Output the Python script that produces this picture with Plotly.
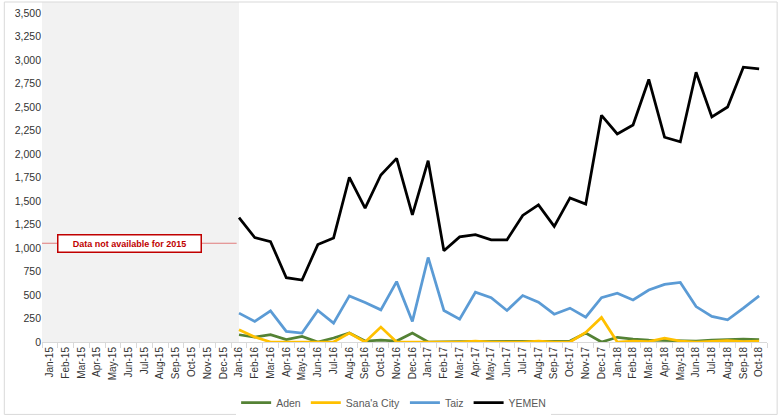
import plotly.graph_objects as go

months = [f"{m}-{y}" for y in ["15", "16", "17", "18"]
          for m in ["Jan", "Feb", "Mar", "Apr", "May", "Jun",
                    "Jul", "Aug", "Sep", "Oct", "Nov", "Dec"]][:46]

no_data_2015 = [None] * 12

aden = no_data_2015 + [
    77, 53, 77, 25, 60, 0, 42, 95, 10, 20, 10, 95,
    0, 5, 5, 5, 5, 5, 5, 5, 5, 10, 95, 0,
    50, 30, 20, 15, 10, 10, 20, 25, 30, 25,
]
sanaa = no_data_2015 + [
    130, 53, 0, 0, 0, 0, 0, 95, 0, 159, 0, 0,
    0, 0, 0, 10, 0, 0, 0, 10, 0, 0, 102, 261,
    0, 10, 5, 42, 10, 0, 5, 15, 5, 10,
]
taiz = no_data_2015 + [
    307, 219, 331, 113, 95, 335, 201, 490, 420, 342, 642, 219,
    899, 335, 243, 529, 472, 335, 494, 423, 296, 360, 264, 472,
    518, 447, 553, 613, 634, 377, 272, 236, 360, 490,
]
yemen = no_data_2015 + [
    1322, 1110, 1068, 684, 659, 1036, 1107, 1752, 1424, 1776, 1953, 1353,
    1928, 970, 1118, 1142, 1086, 1086, 1346, 1459, 1230, 1533, 1467, 2411,
    2213, 2308, 2792, 2178, 2129, 2869, 2393, 2499, 2922, 2905,
]

y_ticks = list(range(0, 3501, 250))
note_level = 1050

fig = go.Figure()
series = [
    ("Aden", aden, "#548235"),
    ("Sana'a City", sanaa, "#ffc000"),
    ("Taiz", taiz, "#5b9bd5"),
    ("YEMEN", yemen, "#000000"),
]
for name, vals, color in series:
    fig.add_trace(go.Scatter(
        x=months, y=vals, name=name, mode="lines",
        line=dict(color=color, width=2.75),
    ))

# grey band for 2015 (no data)
fig.add_shape(type="rect", xref="x", yref="paper", x0=-0.85, x1=12, y0=0, y1=1,
              fillcolor="#f2f2f2", line=dict(width=0), layer="below")
fig.add_shape(type="line", xref="x", yref="y", x0=-0.7, x1=11.85,
              y0=note_level, y1=note_level,
              line=dict(color="#e07b7b", width=1.2))
fig.add_annotation(
    x=5.05, y=note_level, xref="x", yref="y", showarrow=False,
    text="<b>Data not available for 2015</b>",
    font=dict(size=9, color="#c00000", family="Liberation Sans"),
    bgcolor="white", bordercolor="#c00000", borderwidth=1.5,
    width=140, height=14,
)

# chart border
fig.add_shape(type="rect", xref="paper", yref="paper", x0=-0.052, x1=1.014,
              y0=-0.213, y1=1.0, line=dict(color="#d9d9d9", width=1))

fig.update_layout(
    width=779, height=419,
    margin=dict(l=42, r=12, t=2, b=75),
    plot_bgcolor="white", paper_bgcolor="white",
    font=dict(family="Liberation Sans", size=10, color="#404040"),
    showlegend=True,
    legend=dict(orientation="h", x=0.485, xanchor="center", y=-0.178,
                yanchor="middle", font=dict(size=10.5, color="#595959"),
                itemwidth=30, tracegroupgap=0),
)
fig.update_xaxes(
    type="category", range=[-0.5, 45.5], tickangle=-90, automargin=False,
    showline=True, linecolor="#d9d9d9", ticks="outside", tickson="boundaries",
    tickcolor="#d9d9d9", ticklen=5, showgrid=False, zeroline=False,
    tickfont=dict(size=10, color="#333333"),
)
fig.update_yaxes(
    range=[0, 3616], tickvals=y_ticks, tickformat=",d", automargin=False,
    showgrid=False, zeroline=False, showline=False,
    tickfont=dict(size=10.5, color="#333333"),
)

fig.write_html("out.html", config={"displayModeBar": False},
               post_script="document.body.style.margin='0';")
